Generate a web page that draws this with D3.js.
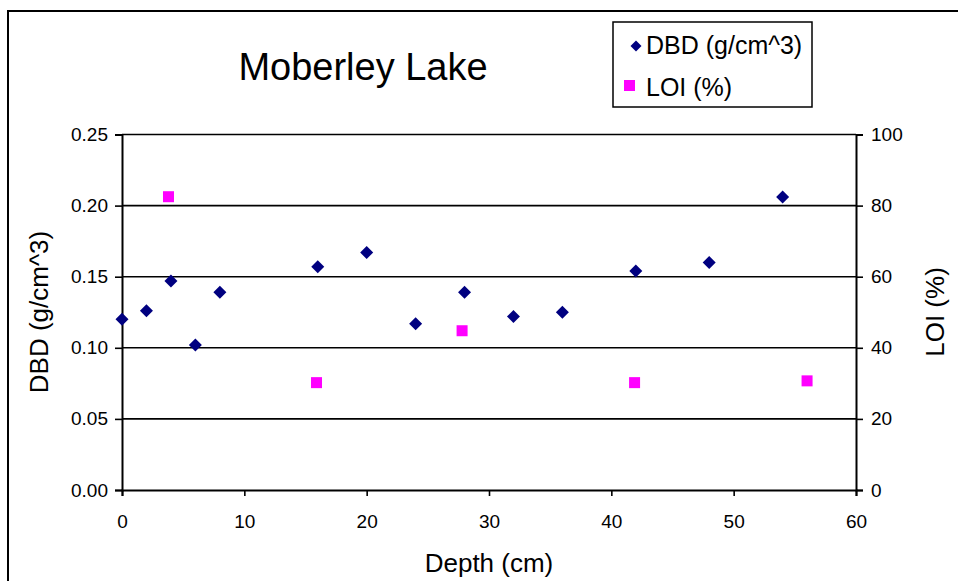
<!DOCTYPE html>
<html>
<head>
<meta charset="utf-8">
<script src="https://cdn.jsdelivr.net/npm/d3@7"></script>
<style>
  body { margin: 0; background: #fff; }
  svg { display: block; font-family: "Liberation Sans", Arial, sans-serif; }
</style>
</head>
<body>
<svg id="chart" width="958" height="581"></svg>
<script>
'use strict';
/*
 *	Data
 */
var dbdDepth = [0, 2, 4, 6, 8, 16, 20, 24, 28, 32, 36, 42, 48, 54];
var dbdValue = [0.120, 0.126, 0.147, 0.102, 0.139, 0.157, 0.167, 0.117, 0.139, 0.122, 0.125, 0.154, 0.160, 0.206];
var loiDepth = [3.8, 15.9, 27.8, 41.9, 56];
var loiValue = [82.5, 30.2, 44.8, 30.2, 30.7];
var xTicks = [0, 10, 20, 30, 40, 50, 60];
var leftTicks = [0, 0.05, 0.10, 0.15, 0.20, 0.25];
var rightTicks = [0, 20, 40, 60, 80, 100];

/*
 *	Layout
 */
var W = 958, H = 581;
var plotL = 122, plotR = 856, plotT = 134.5, plotB = 490;

var svg = d3.select("#chart");

var x = d3.scaleLinear().domain([0, 60]).range([plotL, plotR]);
var yL = d3.scaleLinear().domain([0, 0.25]).range([plotB, plotT]);
var yR = d3.scaleLinear().domain([0, 100]).range([plotB, plotT]);

// outer frame (runs off the right and bottom of the picture)
svg.append("rect")
	.attr("x", 8).attr("y", 11)
	.attr("width", W).attr("height", H)
	.attr("fill", "none").attr("stroke", "#000").attr("stroke-width", 2);

// gridlines
svg.append("g").selectAll("line")
	.data(leftTicks.filter(function(d){ return d > 0; }))
	.enter().append("line")
	.attr("x1", plotL).attr("x2", plotR)
	.attr("y1", function(d){ return yL(d); })
	.attr("y2", function(d){ return yL(d); })
	.attr("stroke", "#000").attr("stroke-width", 1.6);

// axes
var xAxis = svg.append("g")
	.attr("transform", "translate(0," + plotB + ")")
	.call(d3.axisBottom(x).tickValues(xTicks).tickSize(6).tickPadding(19));
var lAxis = svg.append("g")
	.attr("transform", "translate(" + plotL + ",0)")
	.call(d3.axisLeft(yL).tickValues(leftTicks).tickSize(7).tickPadding(7).tickFormat(d3.format(".2f")));
var rAxis = svg.append("g")
	.attr("transform", "translate(" + plotR + ",0)")
	.call(d3.axisRight(yR).tickValues(rightTicks).tickSize(7).tickPadding(8));

[xAxis, lAxis, rAxis].forEach(function(a){
	a.select(".domain").attr("stroke", "#000").attr("stroke-width", 2);
	a.selectAll(".tick line").attr("stroke", "#000").attr("stroke-width", 1.6);
	a.selectAll("text").attr("font-size", 19).attr("fill", "#000")
		.attr("font-family", "Liberation Sans, Arial, sans-serif");
});

// DBD points (diamonds)
svg.append("g").selectAll("path")
	.data(dbdDepth)
	.enter().append("path")
	.attr("d", "M0,-6.5L6.5,0L0,6.5L-6.5,0Z")
	.attr("transform", function(d, i){ return "translate(" + x(d) + "," + yL(dbdValue[i]) + ")"; })
	.attr("fill", "#000080");

// LOI points (squares)
svg.append("g").selectAll("rect")
	.data(loiDepth)
	.enter().append("rect")
	.attr("x", function(d){ return x(d) - 5.5; })
	.attr("y", function(d, i){ return yR(loiValue[i]) - 5.5; })
	.attr("width", 11).attr("height", 11)
	.attr("fill", "#ff00ff");

// title
svg.append("text")
	.attr("x", 363).attr("y", 80)
	.attr("text-anchor", "middle")
	.attr("font-size", 38)
	.text("Moberley Lake");

// axis titles
svg.append("text")
	.attr("x", (plotL + plotR) / 2).attr("y", 572)
	.attr("text-anchor", "middle").attr("font-size", 26)
	.text("Depth (cm)");
svg.append("text")
	.attr("transform", "translate(48,312) rotate(-90)")
	.attr("text-anchor", "middle").attr("font-size", 26)
	.text("DBD (g/cm^3)");
svg.append("text")
	.attr("transform", "translate(944,312) rotate(-90)")
	.attr("text-anchor", "middle").attr("font-size", 26)
	.text("LOI (%)");

// legend
var legend = svg.append("g");
legend.append("rect")
	.attr("x", 613).attr("y", 22)
	.attr("width", 199).attr("height", 85)
	.attr("fill", "#fff").attr("stroke", "#000").attr("stroke-width", 1.5);
legend.append("path")
	.attr("d", "M0,-5.5L5.5,0L0,5.5L-5.5,0Z")
	.attr("transform", "translate(636,46)")
	.attr("fill", "#000080");
legend.append("rect")
	.attr("x", 624).attr("y", 80)
	.attr("width", 11).attr("height", 11)
	.attr("fill", "#ff00ff");
legend.append("text")
	.attr("x", 646).attr("y", 54).attr("font-size", 25)
	.text("DBD (g/cm^3)");
legend.append("text")
	.attr("x", 646).attr("y", 96).attr("font-size", 25)
	.text("LOI (%)");
</script>
</body>
</html>
